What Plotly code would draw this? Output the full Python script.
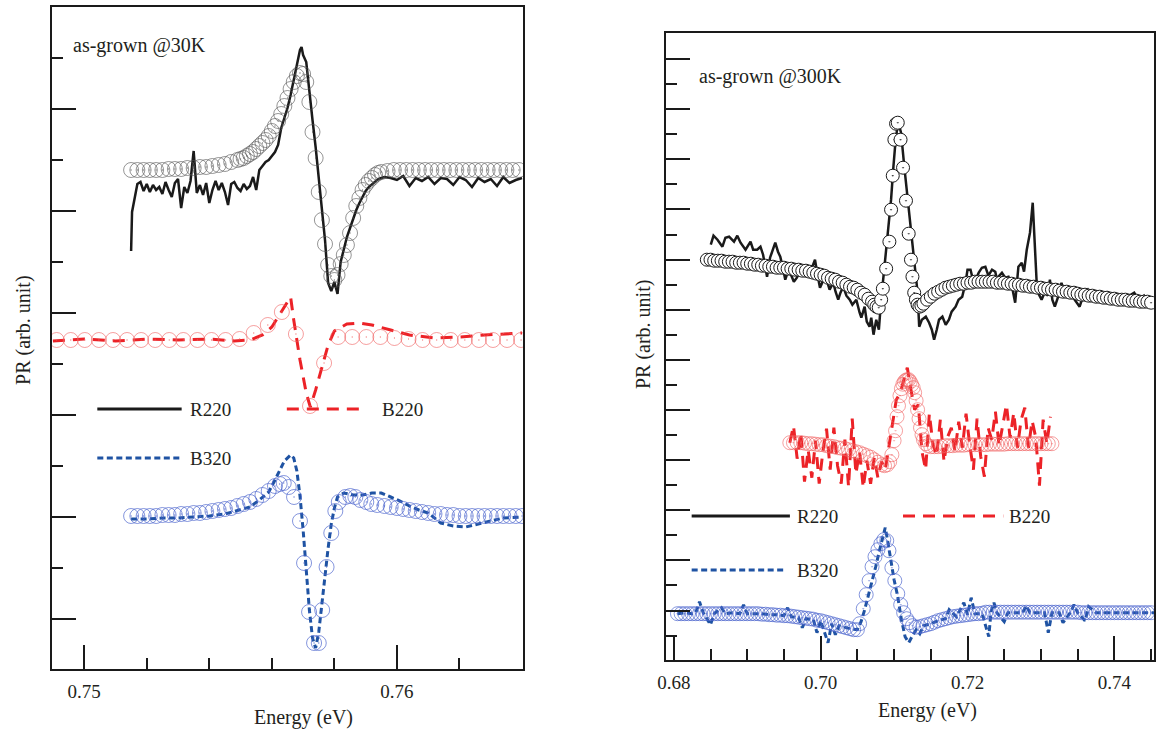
import plotly.graph_objects as go

# ======================= as-grown @30K (left panel) =======================
e30_r220 = [0.75150, 0.75153, 0.7517, 0.7518, 0.7519, 0.7520, 0.7521, 0.7522, 0.7523, 0.7524,
            0.7525, 0.7526, 0.7527, 0.7528, 0.7529, 0.7530, 0.7531, 0.7532, 0.7533, 0.7534,
            0.7535, 0.7536, 0.7537, 0.7538, 0.7539, 0.7540, 0.7541, 0.7542, 0.7543, 0.7544,
            0.7545, 0.7546, 0.7547, 0.7548, 0.7549, 0.7550, 0.7551, 0.7552, 0.7553, 0.7554,
            0.7555, 0.7556, 0.7557, 0.7558, 0.7559, 0.7560, 0.7561, 0.7562, 0.7563, 0.7564,
            0.7565, 0.7566, 0.7567, 0.7568, 0.7569, 0.75695, 0.7570, 0.7571, 0.7572, 0.7573,
            0.7574, 0.7575, 0.7576, 0.7577, 0.7578, 0.7579, 0.7580, 0.7581, 0.7582, 0.7583,
            0.7584, 0.7585, 0.7586, 0.7587, 0.7588, 0.7589, 0.7590, 0.7591, 0.7592, 0.7593,
            0.7594, 0.7595, 0.7596, 0.7598, 0.7600, 0.7602, 0.7604, 0.7606, 0.7608, 0.7610,
            0.7612, 0.7614, 0.7616, 0.7618, 0.7620, 0.7622, 0.7624, 0.7626, 0.7628, 0.7630,
            0.7632, 0.7634, 0.7636, 0.7638, 0.7640]
pr30_r220 = [419, 458, 486, 488, 479, 486, 478, 485, 480, 483,
             476, 488, 480, 473, 487, 491, 462, 483, 477, 489,
             519, 477, 485, 475, 487, 467, 480, 489, 480, 487,
             478, 465, 486, 488, 482, 479, 486, 481, 484, 493,
             480, 500, 504, 508, 510, 514, 518, 525, 542, 552,
             562, 575, 590, 606, 620, 623, 615, 608, 582, 550,
             523, 490, 460, 430, 387, 379, 388, 376, 408, 420,
             433, 442, 452, 460, 467, 473, 479, 483, 486, 489,
             491, 492, 493, 492, 490, 494, 484, 492, 489, 493,
             486, 492, 491, 485, 493, 490, 483, 492, 488, 491,
             484, 493, 487, 490, 492]

e30_r220_fit = [0.7515, 0.7517, 0.7519, 0.7521, 0.7523, 0.7525, 0.7527, 0.7529, 0.7531, 0.7533,
                0.7535, 0.7537, 0.7539, 0.7541, 0.7543, 0.7545, 0.7547, 0.7549,
                0.7550, 0.7551, 0.7552, 0.7553, 0.7554, 0.7555, 0.7556, 0.7557, 0.7558, 0.7559,
                0.7560, 0.7561, 0.7562, 0.7563, 0.7564, 0.7565, 0.7566, 0.7567, 0.7568, 0.7569,
                0.7570, 0.7571, 0.7572, 0.7573, 0.7574, 0.7575, 0.7576, 0.7577, 0.7578, 0.7579,
                0.7580, 0.7581, 0.7582, 0.7583, 0.7584, 0.7585, 0.7586, 0.7587, 0.7588, 0.7589,
                0.7590, 0.7591, 0.7592, 0.7593, 0.7594, 0.7595,
                0.7597, 0.7599, 0.7601, 0.7603, 0.7605, 0.7607, 0.7609, 0.7611, 0.7613, 0.7615,
                0.7617, 0.7619, 0.7621, 0.7623, 0.7625, 0.7627, 0.7629, 0.7631, 0.7633, 0.7635,
                0.7637, 0.7639]
pr30_r220_fit = [500, 500, 500, 500, 500, 500, 501, 501, 501, 502,
                 502, 503, 503, 504, 505, 506, 508, 510,
                 511, 512, 514, 516, 518, 521, 524, 527, 530, 534,
                 539, 544, 549, 556, 564, 572, 581, 588, 594, 597,
                 596, 588, 568, 538, 512, 478, 450, 426, 405, 394,
                 390, 395, 406, 415, 425, 437, 452, 464, 472, 480,
                 485, 489, 492, 495, 497, 498,
                 499, 500, 500, 500, 500, 500, 500, 500, 500, 500,
                 500, 500, 500, 500, 500, 500, 500, 500, 500, 500,
                 500, 500]

e30_b220 = [0.7490, 0.7500, 0.7510, 0.7520, 0.7530, 0.7540, 0.7548, 0.7553, 0.7557, 0.7560,
            0.7563, 0.7566, 0.7567, 0.7569, 0.7571, 0.75723, 0.7574, 0.7576, 0.7578, 0.7580,
            0.7584, 0.7588, 0.7592, 0.7598, 0.7604, 0.7612, 0.7620, 0.7628, 0.7634, 0.7640]
pr30_b220 = [329, 331, 329, 331, 330, 331, 329, 330, 335, 343,
             358, 373, 350, 310, 277, 263, 280, 304, 325, 339,
             346, 347, 345, 340, 335, 332, 333, 335, 336, 337]

e30_b220_fit = [0.74912, 0.74957, 0.75002, 0.75047, 0.75092, 0.75137, 0.75182, 0.75227, 0.75272, 0.75317,
                0.75362, 0.75407, 0.75452, 0.75497, 0.75542, 0.75587, 0.75632, 0.75677, 0.75722, 0.75767,
                0.75812, 0.75857, 0.75902, 0.75947, 0.75992, 0.76037, 0.76082, 0.76127, 0.76172, 0.76217,
                0.76262, 0.76307, 0.76352, 0.76397]
pr30_b220_fit = [330, 330, 330, 330, 330, 330, 330, 330, 330, 330,
                 330, 330, 330, 331, 337, 345, 358, 336, 264, 307,
                 333, 333, 333, 333, 332, 331, 330, 330, 330, 330,
                 330, 330, 330, 330]

e30_b320 = [0.7515, 0.7520, 0.7525, 0.7530, 0.7535, 0.7540, 0.7545, 0.7550, 0.7553, 0.7556,
            0.7559, 0.7561, 0.7563, 0.7564, 0.7566, 0.7567, 0.7568, 0.7569, 0.7570, 0.7571,
            0.7572, 0.7573, 0.7574, 0.7575, 0.7576, 0.7577, 0.7578, 0.7579, 0.7580, 0.7581,
            0.7583, 0.7586, 0.7589, 0.7592, 0.7595, 0.7598, 0.7601, 0.7604, 0.7607, 0.7610,
            0.7614, 0.7618, 0.7622, 0.7626, 0.7630, 0.7634, 0.7640]
pr30_b320 = [151, 151, 152, 152, 153, 154, 156, 160, 163, 170,
             178, 190, 202, 209, 215, 212, 199, 174, 140, 98,
             60, 32, 22, 38, 67, 93, 122, 146, 162, 173,
             177, 175, 175, 177, 177, 173, 169, 164, 160, 157,
             147, 144, 143, 146, 149, 152, 153]

e30_b320_fit = [0.7515, 0.7517, 0.7519, 0.7521, 0.7523, 0.7525, 0.7527, 0.7529, 0.7531, 0.7533,
                0.7535, 0.7537, 0.7539, 0.7541, 0.7543, 0.7545, 0.7547, 0.7549, 0.7551, 0.7553,
                0.7555, 0.7557, 0.7559, 0.7561,
                0.75625, 0.75638, 0.75654, 0.75671, 0.75690, 0.75703, 0.75719, 0.75735, 0.75750, 0.75761,
                0.75775, 0.75790, 0.75803, 0.75814, 0.75835, 0.75851, 0.75867, 0.75883, 0.75902, 0.75918,
                0.75937,
                0.7596, 0.7598, 0.7600, 0.7602, 0.7604, 0.7606, 0.7608, 0.7610, 0.7612, 0.7614,
                0.7616, 0.7618, 0.7620, 0.7622, 0.7624, 0.7626, 0.7628, 0.7630, 0.7632, 0.7634,
                0.7636, 0.7638, 0.7640]
pr30_b320_fit = [154, 154, 154, 154, 154, 155, 155, 155, 156, 156,
                 157, 157, 158, 159, 160, 161, 162, 164, 166, 168,
                 171, 175, 179, 184,
                 186, 187, 183, 173, 149, 107, 58, 27, 27, 60,
                 103, 137, 159, 168, 173, 174, 173, 170, 168, 166,
                 165,
                 164, 163, 162, 161, 160, 159, 158, 157, 156, 156,
                 155, 155, 154, 154, 154, 154, 154, 154, 154, 154,
                 154, 154, 154]

# ======================= as-grown @300K (right panel) =======================
e300_r220 = [0.68504, 0.68541, 0.68595, 0.68662, 0.68703, 0.68753, 0.68820, 0.68865, 0.68909, 0.68977,
             0.69045, 0.69081, 0.69135, 0.69180, 0.69216, 0.69270, 0.69311, 0.69338, 0.69382, 0.69419,
             0.69450, 0.69486, 0.69518, 0.69554, 0.69585, 0.69635, 0.69676, 0.69716, 0.69766, 0.69811,
             0.69855, 0.69892, 0.69923, 0.69959, 0.69991, 0.70027, 0.70081, 0.70122, 0.70172, 0.70203,
             0.70239, 0.70270, 0.70307, 0.70351, 0.70396, 0.70432, 0.70486, 0.70531, 0.70554, 0.70599,
             0.70628, 0.70666, 0.70689, 0.70720, 0.70757, 0.70793, 0.70824, 0.70869, 0.70915, 0.70959,
             0.70991, 0.71018, 0.71054, 0.71095, 0.71139, 0.71185, 0.71230, 0.71274, 0.71320, 0.71342,
             0.71378, 0.71432, 0.71477, 0.71514, 0.71545, 0.71581, 0.71612, 0.71658, 0.71703, 0.71747,
             0.71784, 0.71838, 0.71878, 0.71928, 0.71973, 0.72000, 0.72041, 0.72074, 0.72108, 0.72153,
             0.72196, 0.72243, 0.72284, 0.72334, 0.72378, 0.72401, 0.72432, 0.72469, 0.72514, 0.72558,
             0.72601, 0.72649, 0.72693, 0.72739, 0.72770, 0.72807, 0.72851, 0.72888, 0.72919, 0.72942,
             0.72973, 0.73009, 0.73054, 0.73095, 0.73122, 0.73155, 0.73189, 0.73230, 0.73280, 0.73324,
             0.73369, 0.73419, 0.73459, 0.73527, 0.73581, 0.73639, 0.73689, 0.73730, 0.73770, 0.73820,
             0.73865, 0.73909, 0.73959, 0.74000, 0.74041, 0.74091, 0.74135, 0.74203, 0.74270, 0.74311,
             0.74361, 0.74405, 0.74450, 0.74486, 0.74541]
pr300_r220 = [416, 425, 421, 414, 423, 424, 419, 425, 418, 411,
              419, 411, 411, 414, 406, 384, 403, 408, 418, 409,
              404, 393, 381, 389, 388, 379, 383, 389, 393, 385,
              389, 395, 401, 385, 373, 379, 381, 371, 378, 369,
              361, 368, 374, 365, 361, 356, 361, 348, 343, 354,
              339, 334, 343, 326, 341, 331, 361, 394, 428, 461,
              494, 518, 539, 528, 494, 461, 428, 394, 368, 334,
              341, 344, 338, 331, 321, 331, 341, 344, 336, 341,
              349, 354, 361, 364, 378, 391, 391, 381, 381, 388,
              393, 394, 385, 391, 389, 381, 385, 388, 383, 384,
              376, 358, 394, 398, 389, 411, 428, 458, 418, 378,
              366, 361, 369, 365, 381, 361, 354, 363, 378, 366,
              364, 369, 361, 354, 366, 371, 365, 361, 365, 361,
              364, 368, 363, 364, 362, 358, 362, 365, 368, 363,
              361, 365, 361, 362, 359]

e300_r220_fit = [0.6845, 0.6850, 0.6855, 0.6860, 0.6865, 0.6870, 0.6875, 0.6880, 0.6885, 0.6890,
                 0.6895, 0.6900, 0.6905, 0.6910, 0.6915, 0.6920, 0.6925, 0.6930, 0.6935, 0.6940,
                 0.6945, 0.6950, 0.6955, 0.6960, 0.6965, 0.6970, 0.6975, 0.6980, 0.6985, 0.6990,
                 0.6995, 0.7000, 0.7005, 0.7010, 0.7015, 0.7020, 0.7025, 0.7030, 0.7035, 0.7040,
                 0.7045, 0.7050, 0.7055, 0.7060, 0.7065, 0.7070,
                 0.7073, 0.7076, 0.70791, 0.70824, 0.70847, 0.70892, 0.70936, 0.70959, 0.70982, 0.71004,
                 0.71027, 0.71050, 0.71088, 0.71122, 0.71162, 0.71199, 0.71230, 0.71250, 0.71274, 0.71297,
                 0.71320, 0.71345, 0.71372,
                 0.7140, 0.7145, 0.7150, 0.7155, 0.7160, 0.7165, 0.7170, 0.7175, 0.7180, 0.7185,
                 0.7190, 0.7195, 0.7200, 0.7205, 0.7210, 0.7215, 0.7220, 0.7225, 0.7230, 0.7235,
                 0.7240, 0.7245, 0.7250, 0.7255, 0.7260, 0.7265, 0.7270, 0.7275, 0.7280, 0.7285,
                 0.7290, 0.7295, 0.7300, 0.7305, 0.7310, 0.7315, 0.7320, 0.7325, 0.7330, 0.7335,
                 0.7340, 0.7345, 0.7350, 0.7355, 0.7360, 0.7365, 0.7370, 0.7375, 0.7380, 0.7385,
                 0.7390, 0.7395, 0.7400, 0.7405, 0.7410, 0.7415, 0.7420, 0.7425, 0.7430, 0.7435,
                 0.7440, 0.7445, 0.7450]
pr300_r220_fit = [401, 401, 400, 400, 400, 399, 399, 399, 398, 398,
                  398, 397, 397, 396, 396, 395, 395, 394, 394, 393,
                  393, 393, 392, 392, 391, 391, 390, 390, 389, 388,
                  387, 386, 385, 383, 382, 381, 379, 378, 376, 374,
                  373, 371, 368, 366, 362, 359,
                  356, 354, 353, 361, 372, 392, 419, 451, 485, 521,
                  537, 538, 521, 493, 460, 427, 401, 384, 368, 361,
                  356, 354, 355,
                  357, 361, 364, 367, 369, 371, 373, 374, 375, 376,
                  377, 377, 378, 378, 379, 379, 379, 379, 379, 379,
                  378, 378, 378, 377, 377, 376, 376, 375, 375, 374,
                  374, 373, 373, 372, 372, 371, 371, 370, 369, 369,
                  368, 368, 367, 366, 366, 365, 365, 364, 364, 363,
                  363, 362, 362, 361, 361, 361, 360, 360, 360, 359,
                  359, 359, 358]

e300_b220 = [0.6958, 0.6963, 0.6968, 0.6973, 0.6978, 0.6983, 0.6988, 0.6993, 0.6998, 0.7003,
             0.7008, 0.7013, 0.7018, 0.7023, 0.7028, 0.7033, 0.7038, 0.7043, 0.7048, 0.7053,
             0.7058, 0.7063, 0.7068, 0.7073, 0.7078, 0.7083, 0.7088, 0.7093, 0.7098, 0.7103,
             0.7108, 0.7113, 0.7118, 0.7123, 0.7128, 0.7133, 0.7138, 0.7143, 0.7148, 0.7153,
             0.7158, 0.7163, 0.7168, 0.7173, 0.7178, 0.7183, 0.7188, 0.7193, 0.7198, 0.7203,
             0.7208, 0.7213, 0.7218, 0.7223, 0.7228, 0.7233, 0.7238, 0.7243, 0.7248, 0.7253,
             0.7258, 0.7263, 0.7268, 0.7273, 0.7278, 0.7283, 0.7288, 0.7293, 0.7298, 0.7303,
             0.7308, 0.7313]
pr300_b220 = [218, 235, 202, 228, 179, 211, 183, 220, 177, 209,
              232, 191, 233, 195, 177, 221, 174, 242, 187, 209,
              173, 200, 177, 203, 183, 199, 191, 215, 236, 261,
              267, 279, 293, 271, 251, 256, 209, 191, 247, 216,
              205, 241, 199, 224, 233, 209, 239, 213, 247, 216,
              191, 242, 204, 184, 233, 221, 249, 215, 236, 256,
              223, 248, 213, 241, 253, 213, 240, 223, 175, 241,
              217, 244]

e300_b220_fit = [0.6958, 0.6963, 0.6968, 0.6973, 0.6978, 0.6983, 0.6988, 0.6993, 0.6998, 0.7003,
                 0.7008, 0.7013, 0.7018, 0.7023, 0.7028, 0.7033, 0.7038, 0.7043, 0.7048, 0.7053,
                 0.7058, 0.7063, 0.7068, 0.7073, 0.7078, 0.7083,
                 0.7087, 0.7091, 0.7094, 0.7097,
                 0.7100, 0.7102, 0.7104, 0.7106, 0.7108, 0.7110, 0.7112, 0.7114, 0.7116, 0.7118,
                 0.7120, 0.7122, 0.7124, 0.7126, 0.7128, 0.7130, 0.7132, 0.7134, 0.7136, 0.7138,
                 0.7140, 0.7143, 0.7146,
                 0.7150, 0.7155, 0.7160, 0.7165, 0.7170, 0.7175, 0.7180, 0.7185, 0.7190, 0.7195,
                 0.7200, 0.7205, 0.7210, 0.7215, 0.7220, 0.7225, 0.7230, 0.7235, 0.7240, 0.7245,
                 0.7250, 0.7255, 0.7260, 0.7265, 0.7270, 0.7275, 0.7280, 0.7285, 0.7290, 0.7295,
                 0.7300, 0.7305, 0.7310, 0.7315]
pr300_b220_fit = [218, 218, 218, 218, 217.5, 217, 217, 216.5, 216, 216,
                  215, 214.5, 214, 213, 212.5, 212, 211, 210, 209, 208,
                  206.5, 205, 203.5, 201, 198.5, 196,
                  195, 196, 199, 206,
                  220, 230, 244, 255, 265, 272, 276.5, 279, 280.5, 281,
                  281, 279, 276, 273, 268, 260, 251, 242, 233, 226,
                  221, 217, 215,
                  214, 214, 214, 214.5, 215, 215, 215, 215.5, 215.5, 215.5,
                  216, 216, 216, 216, 216, 216, 216.5, 216.5, 216.5, 216.5,
                  216.5, 217, 217, 217, 217, 217, 217, 217, 217, 217,
                  217, 217, 217, 217]

e300_b320 = [0.6805, 0.6815, 0.6825, 0.6830, 0.6835, 0.6840, 0.6850, 0.6855, 0.6865, 0.6870,
             0.6880, 0.6890, 0.6895, 0.6900, 0.6910, 0.6920, 0.6930, 0.6940, 0.6950, 0.6955,
             0.6960, 0.6970, 0.6975, 0.6980, 0.6990, 0.6995, 0.7000, 0.7010, 0.7015, 0.7020,
             0.7025, 0.7030, 0.7040, 0.7050, 0.7055, 0.7060, 0.7065, 0.7070, 0.7075, 0.7080,
             0.7085, 0.7088, 0.7091, 0.7095, 0.7100, 0.7105, 0.7110, 0.7115, 0.7120, 0.7125,
             0.7130, 0.7135, 0.7140, 0.7150, 0.7160, 0.7170, 0.7175, 0.7185, 0.7195, 0.7200,
             0.7205, 0.7210, 0.7220, 0.7225, 0.7229, 0.7232, 0.7236, 0.7240, 0.7250, 0.7255,
             0.7265, 0.7275, 0.7280, 0.7285, 0.7295, 0.7305, 0.7310, 0.7315, 0.7325, 0.7330,
             0.7340, 0.7345, 0.7350, 0.7360, 0.7365, 0.7375, 0.7385, 0.7395, 0.7405, 0.7415,
             0.7425, 0.7435, 0.7445, 0.7454]
pr300_b320 = [47, 48, 47, 48, 59, 48, 36, 47, 53, 47,
              48, 47, 56, 47, 47, 47, 46, 46, 45, 53,
              44, 43, 33, 42, 41, 28, 40, 18, 37, 26,
              35, 34, 32, 31, 39, 51, 65, 79, 94, 110,
              126, 133, 121, 101, 81, 64, 41, 24, 18, 25,
              31, 27, 35, 37, 40, 42, 51, 44, 58, 46,
              63, 47, 47, 34, 24, 49, 58, 48, 39, 48,
              48, 48, 55, 48, 48, 48, 28, 48, 48, 38,
              48, 56, 48, 40, 54, 48, 48, 48, 48, 48,
              48, 48, 48, 48]

e300_b320_fit = [0.6805, 0.6810, 0.6815, 0.6820, 0.6825, 0.6830, 0.6835, 0.6840, 0.6845, 0.6850,
                 0.6855, 0.6860, 0.6865, 0.6870, 0.6875, 0.6880, 0.6885, 0.6890, 0.6895, 0.6900,
                 0.6905, 0.6910, 0.6915, 0.6920, 0.6925, 0.6930, 0.6935, 0.6940, 0.6945, 0.6950,
                 0.6955, 0.6960, 0.6965, 0.6970, 0.6975, 0.6980, 0.6985, 0.6990, 0.6995, 0.7000,
                 0.7005, 0.7010, 0.7015, 0.7020, 0.7025, 0.7030, 0.7035, 0.7040, 0.7045, 0.7050,
                 0.7053, 0.7058, 0.7062, 0.7066, 0.7070, 0.7074, 0.7078, 0.7082, 0.7086, 0.7090,
                 0.7093, 0.7097, 0.7101, 0.7105, 0.7109, 0.7113, 0.7117, 0.7121, 0.7125,
                 0.7130, 0.7135, 0.7140, 0.7145, 0.7150, 0.7155, 0.7160, 0.7165, 0.7170, 0.7175,
                 0.7180, 0.7185, 0.7190, 0.7195, 0.7200, 0.7205, 0.7210, 0.7215, 0.7220, 0.7225,
                 0.7230, 0.7235, 0.7240, 0.7245, 0.7250, 0.7255, 0.7260, 0.7265, 0.7270, 0.7275,
                 0.7280, 0.7285, 0.7290, 0.7295, 0.7300, 0.7305, 0.7310, 0.7315, 0.7320, 0.7325,
                 0.7330, 0.7335, 0.7340, 0.7345, 0.7350, 0.7355, 0.7360, 0.7365, 0.7370, 0.7375,
                 0.7380, 0.7385, 0.7390, 0.7395, 0.7400, 0.7405, 0.7410, 0.7415, 0.7420, 0.7425,
                 0.7430, 0.7435, 0.7440, 0.7445, 0.7450]
pr300_b320_fit = [47, 47, 47, 47, 47, 47, 47, 47, 47, 47,
                  47, 47, 47, 47, 47, 47, 47, 47, 47, 47,
                  47, 47, 47, 46.5, 46.5, 46, 46, 45.5, 45.5, 45,
                  45, 44.5, 44, 43.5, 43, 42.5, 42, 41.5, 40.5, 40,
                  39, 38, 37, 36, 35, 34, 33, 32, 31, 31,
                  37, 52, 66, 80, 94, 104, 111, 117, 121, 120,
                  110, 93, 80, 67, 56, 48, 42, 38, 35,
                  33.5, 34, 35, 36, 37, 38.5, 40, 41, 42, 43,
                  44, 44.5, 45, 45.5, 46, 46.5, 47, 47, 47.5, 48.5,
                  48.5, 48.5, 48.5, 48.5, 48.5, 48.5, 48.5, 48.5, 48.5, 48.5,
                  48.5, 48.5, 48.5, 48.5, 48.5, 48.5, 48.5, 48.5, 48.5, 48.5,
                  48.5, 48.5, 48.5, 48.5, 48.5, 48, 48, 48, 48, 48,
                  48, 48, 48, 48, 48, 48, 48, 48, 48, 48,
                  48, 48, 48, 48, 48]

# axis ticks (energy in eV, PR in arbitrary units)
ticks30_major = [0.75, 0.76]
ticks30_minor = [0.752, 0.754, 0.756, 0.758, 0.762]
ticks300_major = [0.68, 0.70, 0.72, 0.74]
ticks300_minor = [0.685, 0.69, 0.695, 0.705, 0.71, 0.715, 0.725, 0.73, 0.735, 0.745]
pr30_major = [51, 153, 255, 357, 459, 561]
pr30_minor = [102, 204, 306, 408, 510, 612]
STEP300 = 25.07
pr300_major = [STEP300 * k for k in range(2, 25, 2)]
pr300_minor = [STEP300 * k for k in range(1, 24, 2)]

# ---------------------------------------------------------------------------
W, H = 1161, 730
XOFF = -6
FONT = "Liberation Serif"
TXT = "#231f20"
BLACK = "#1a1a1a"
RED = "#ec2227"
BLUE = "#1f53a3"
GRAY_C = "rgba(85,85,85,0.62)"
RED_C = "rgba(240,95,95,0.6)"
BLUE_C = "rgba(75,100,205,0.68)"
RED_DASH = "12px,8px"
BLUE_DASH = "6px,3.5px"


def px(x):
    return (x + XOFF) / W


def py(y):
    return 1 - y / H


fig = go.Figure()


def line(x, y, color, dash, width, xa, ya):
    fig.add_trace(go.Scatter(x=x, y=y, mode="lines", xaxis=xa, yaxis=ya,
                             line=dict(color=color, width=width, dash=dash),
                             showlegend=False, hoverinfo="skip"))


def circles(x, y, color, size, xa, ya, fill=None):
    if fill is None:
        marker = dict(symbol="circle-open-dot", size=size, color=color,
                      line=dict(color=color, width=1))
    else:
        marker = dict(symbol="circle-dot", size=size, color=fill,
                      line=dict(color=color, width=1))
    fig.add_trace(go.Scatter(x=x, y=y, mode="markers", xaxis=xa, yaxis=ya,
                             marker=marker, showlegend=False, hoverinfo="skip"))


# left panel
line(e30_r220, pr30_r220, BLACK, "solid", 2.5, "x", "y")
circles(e30_r220_fit, pr30_r220_fit, GRAY_C, 15, "x", "y")
line(e30_b220, pr30_b220, RED, RED_DASH, 3, "x", "y")
circles(e30_b220_fit, pr30_b220_fit, RED_C, 15, "x", "y")
line(e30_b320, pr30_b320, BLUE, BLUE_DASH, 3, "x", "y")
circles(e30_b320_fit, pr30_b320_fit, BLUE_C, 15, "x", "y")

# right panel
line(e300_r220, pr300_r220, BLACK, "solid", 2.5, "x2", "y2")
circles(e300_r220_fit, pr300_r220_fit, BLACK, 13, "x2", "y2", fill="white")
line(e300_b220, pr300_b220, RED, RED_DASH, 3, "x2", "y2")
circles(e300_b220_fit, pr300_b220_fit, RED_C, 14, "x2", "y2")
line(e300_b320, pr300_b320, BLUE, BLUE_DASH, 3, "x2", "y2")
circles(e300_b320_fit, pr300_b320_fit, BLUE_C, 14, "x2", "y2")

common = dict(showline=True, linecolor=BLACK, linewidth=2, mirror=True,
              ticks="inside", tickcolor=BLACK, tickwidth=2, ticklen=24,
              showgrid=False, zeroline=False,
              tickfont=dict(family=FONT, size=19, color=TXT))


def minor(vals):
    return dict(tickmode="array", tickvals=vals, ticks="inside", ticklen=11,
                tickwidth=2, tickcolor=BLACK, showgrid=False)


fig.update_layout(
    width=W, height=H, margin=dict(l=0, r=0, t=0, b=0),
    paper_bgcolor="white", plot_bgcolor="white", showlegend=False,
    xaxis=dict(domain=[px(49), px(524)], range=[0.74896, 0.76403], anchor="y",
               tickmode="array", tickvals=ticks30_major,
               ticktext=["0.75", "0.76"], minor=minor(ticks30_minor),
               ticklabelstandoff=4, **common),
    yaxis=dict(domain=[py(669), py(7)], range=[1, 663], anchor="x",
               tickmode="array", tickvals=pr30_major, showticklabels=False,
               minor=minor(pr30_minor), **common),
    xaxis2=dict(domain=[px(668), px(1160)], range=[0.67892, 0.745405], anchor="y2",
                tickmode="array", tickvals=ticks300_major,
                ticktext=["0.68", "0.70", "0.72", "0.74"], minor=minor(ticks300_minor),
                ticklabelstandoff=5, **common),
    yaxis2=dict(domain=[py(659.5), py(32.6)], range=[1.2, 628.1], anchor="x2",
                tickmode="array", tickvals=pr300_major, showticklabels=False,
                minor=minor(pr300_minor), **common),
)

ann = []


def text(x, y, s, xanchor="left", angle=0, size=19):
    ann.append(dict(x=px(x), y=py(y), xref="paper", yref="paper", text=s,
                    showarrow=False, xanchor=xanchor, yanchor="middle",
                    textangle=angle, font=dict(family=FONT, size=size, color=TXT)))


text(68, 46, "as-grown @30K", size=20)
text(699, 76, "as-grown @300K", size=20)
text(303, 717, "Energy (eV)", xanchor="center", size=20)
text(932, 710, "Energy (eV)", xanchor="center", size=20)
text(20, 330, "PR (arb. unit)", xanchor="center", angle=-90, size=20)
text(645, 335, "PR (arb. unit)", xanchor="center", angle=-90, size=20)

# legend keys
shapes = []


def key(x0, x1, y, color, dash):
    shapes.append(dict(type="line", xref="paper", yref="paper", x0=px(x0), x1=px(x1),
                       y0=py(y), y1=py(y), line=dict(color=color, width=3, dash=dash)))


key(95, 180, 409, BLACK, "solid"); text(186, 409, "R220")
key(286, 366, 409, RED, RED_DASH); text(380, 409, "B220")
key(95, 178, 458, BLUE, BLUE_DASH); text(186, 458, "B320")
key(694, 793, 516, BLACK, "solid"); text(798, 516, "R220")
key(907, 1008, 516, RED, RED_DASH); text(1012, 516, "B220")
key(694, 788, 570, BLUE, BLUE_DASH); text(798, 570, "B320")

fig.update_layout(annotations=ann, shapes=shapes)
fig.write_html("out.html", config={"displayModeBar": False},
               post_script="document.body.style.margin='0';"
                           "document.body.style.overflow='hidden';")
